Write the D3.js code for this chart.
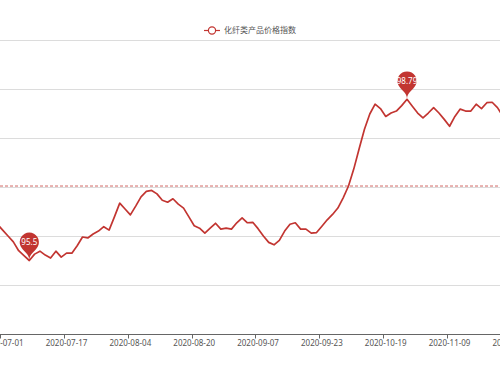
<!DOCTYPE html>
<html>
<head>
<meta charset="utf-8">
<script src="https://cdn.jsdelivr.net/npm/d3@7"></script>
<style>
  html, body { margin: 0; padding: 0; background: #fff; }
  svg { display: block; font-family: "Noto Sans", "Noto Sans CJK SC", sans-serif; }
</style>
</head>
<body>
<svg id="chart" width="500" height="375"></svg>
<script>
var seriesName = "化纤类产品价格指数";

var dates = [
    "2020-06-29", "2020-06-30",
    "2020-07-01", "2020-07-02", "2020-07-03", "2020-07-06", "2020-07-07", "2020-07-08",
    "2020-07-09", "2020-07-10", "2020-07-13", "2020-07-14", "2020-07-15", "2020-07-16",
    "2020-07-17", "2020-07-20", "2020-07-21", "2020-07-22", "2020-07-23", "2020-07-24",
    "2020-07-27", "2020-07-28", "2020-07-29", "2020-07-30", "2020-07-31", "2020-08-03",
    "2020-08-04", "2020-08-05", "2020-08-06", "2020-08-07", "2020-08-10", "2020-08-11",
    "2020-08-12", "2020-08-13", "2020-08-14", "2020-08-17", "2020-08-18", "2020-08-19",
    "2020-08-20", "2020-08-21", "2020-08-24", "2020-08-25", "2020-08-26", "2020-08-27",
    "2020-08-28", "2020-08-31", "2020-09-01", "2020-09-02", "2020-09-03", "2020-09-04",
    "2020-09-07", "2020-09-08", "2020-09-09", "2020-09-10", "2020-09-11", "2020-09-14",
    "2020-09-15", "2020-09-16", "2020-09-17", "2020-09-18", "2020-09-21", "2020-09-22",
    "2020-09-23", "2020-09-24", "2020-09-25", "2020-09-28", "2020-09-29", "2020-09-30",
    "2020-10-09", "2020-10-12", "2020-10-13", "2020-10-14", "2020-10-15", "2020-10-16",
    "2020-10-19", "2020-10-20", "2020-10-22", "2020-10-23", "2020-10-26", "2020-10-27",
    "2020-10-28", "2020-10-29", "2020-10-30", "2020-11-02", "2020-11-04", "2020-11-06",
    "2020-11-09", "2020-11-10", "2020-11-11", "2020-11-12", "2020-11-13", "2020-11-16",
    "2020-11-17", "2020-11-18", "2020-11-19", "2020-11-20", "2020-11-23", "2020-11-24",
    "2020-11-25", "2020-11-26"
];

var values = [
    96.37, 96.24,
    96.12, 96.00, 95.88, 95.70, 95.60, 95.50, 95.63, 95.69, 95.61, 95.55, 95.69, 95.57,
    95.65, 95.65, 95.80, 95.98, 95.96, 96.04, 96.10, 96.19, 96.12, 96.39, 96.67, 96.55,
    96.43, 96.61, 96.80, 96.91, 96.93, 96.86, 96.73, 96.69, 96.76, 96.65, 96.57, 96.39,
    96.21, 96.16, 96.06, 96.16, 96.26, 96.14, 96.16, 96.14, 96.27, 96.37, 96.27, 96.28,
    96.15, 96.00, 95.87, 95.82, 95.91, 96.10, 96.24, 96.27, 96.14, 96.14, 96.06, 96.07,
    96.20, 96.33, 96.44, 96.57, 96.78, 97.02, 97.37, 97.78, 98.18, 98.49, 98.69, 98.60,
    98.44, 98.51, 98.55, 98.66, 98.79, 98.65, 98.51, 98.41, 98.51, 98.62, 98.51, 98.38,
    98.24, 98.44, 98.59, 98.55, 98.55, 98.69, 98.60, 98.72, 98.73, 98.62, 98.45, 98.37,
    98.30, 98.35
];

// average mark line (whole series, partly outside the view)
var averageValue = 97.02;

var yTicks = [94, 95, 96, 97, 98, 99, 100];
var labelEvery = 12;
var firstLabel = "2020-07-01";

var color = "#c23531";

var svg = d3.select("#chart");

// category axis, one band per date; first shown label sits near the left edge
var step = 5.32;
var firstIdx = dates.indexOf(firstLabel);
var x0 = 2.7 - (firstIdx + 0.5) * step;
var x = d3.scaleBand()
    .domain(dates)
    .range([x0, x0 + dates.length * step])
    .padding(0);
function cx(d) { return x(d) + x.bandwidth() / 2; }

var y = d3.scaleLinear().domain([94, 100]).range([334, 40]);

// grid
svg.append("g").selectAll("line")
    .data(yTicks.slice(1))
    .enter().append("line")
    .attr("x1", 0).attr("x2", 500)
    .attr("y1", function(d) { return Math.round(y(d)) + 0.5; })
    .attr("y2", function(d) { return Math.round(y(d)) + 0.5; })
    .attr("stroke", "#dcdcdc")
    .attr("stroke-width", 1);

// x axis
var labelled = dates.filter(function(d, i) { return (i - firstIdx) % labelEvery === 0; });
var axisY = Math.round(y(94)) + 0.5;
var xAxis = svg.append("g");
xAxis.append("line")
    .attr("x1", 0).attr("x2", 500)
    .attr("y1", axisY).attr("y2", axisY)
    .attr("stroke", "#666").attr("stroke-width", 1);
xAxis.selectAll("line.tick")
    .data(labelled)
    .enter().append("line")
    .attr("class", "tick")
    .attr("x1", function(d) { return Math.round(x(d)) + 0.5; })
    .attr("x2", function(d) { return Math.round(x(d)) + 0.5; })
    .attr("y1", axisY).attr("y2", axisY + 4)
    .attr("stroke", "#666");
xAxis.selectAll("text")
    .data(labelled)
    .enter().append("text")
    .attr("x", cx)
    .attr("y", axisY + 9)
    .attr("dy", "0.35em")
    .attr("text-anchor", "middle")
    .attr("font-size", 8)
    .attr("fill", "#555")
    .text(function(d) { return d; });

// average line
svg.append("line")
    .attr("x1", 0).attr("x2", 500)
    .attr("y1", y(averageValue)).attr("y2", y(averageValue))
    .attr("stroke", color)
    .attr("stroke-opacity", 0.75)
    .attr("stroke-width", 1)
    .attr("stroke-dasharray", "3,2");

// series line
var line = d3.line()
    .x(function(d, i) { return cx(dates[i]); })
    .y(function(d) { return y(d); });

svg.append("path")
    .datum(values)
    .attr("d", line)
    .attr("fill", "none")
    .attr("stroke", color)
    .attr("stroke-width", 1.7)
    .attr("stroke-linejoin", "round");

// max / min pins (echarts style)
function pinPath(px, py, size) {
    var w = size / 5 * 3;
    var h = size;
    var r = w / 2;
    var dy = r * r / (h - r);
    var cy = py - h + r + dy;
    var angle = Math.asin(dy / r);
    var dx = Math.cos(angle) * r;
    var tanX = Math.sin(angle);
    var tanY = Math.cos(angle);
    var cpLen = r * 0.6;
    var cpLen2 = r * 0.7;
    var p = d3.path();
    p.moveTo(px - dx, cy + dy);
    p.arc(px, cy, r, Math.PI - angle, Math.PI * 2 + angle);
    p.bezierCurveTo(px + dx - tanX * cpLen, cy + dy + tanY * cpLen, px, py - cpLen2, px, py);
    p.bezierCurveTo(px, py - cpLen2, px - dx + tanX * cpLen, cy + dy + tanY * cpLen, px - dx, cy + dy);
    p.closePath();
    return { d: p.toString(), cy: cy };
}

var maxI = d3.maxIndex(values);
var minI = d3.minIndex(values);
var pins = [maxI, minI];
var pinSize = 32;

var pg = svg.append("g").selectAll("g")
    .data(pins)
    .enter().append("g");
pg.append("path")
    .attr("d", function(i) { return pinPath(cx(dates[i]), y(values[i]), pinSize).d; })
    .attr("fill", color);
pg.append("text")
    .attr("x", function(i) { return cx(dates[i]); })
    .attr("y", function(i) { return pinPath(cx(dates[i]), y(values[i]), pinSize).cy; })
    .attr("dy", "0.35em")
    .attr("text-anchor", "middle")
    .attr("font-size", 8)
    .attr("fill", "#fff")
    .text(function(i) { return values[i]; });

// legend
var lg = svg.append("g").attr("transform", "translate(204,30)");
lg.append("line")
    .attr("x1", 0).attr("x2", 16)
    .attr("y1", 0.5).attr("y2", 0.5)
    .attr("stroke", color).attr("stroke-width", 1.2);
lg.append("circle")
    .attr("cx", 8).attr("cy", 0.5).attr("r", 3.6)
    .attr("fill", "#fff").attr("stroke", color).attr("stroke-width", 1.2);
lg.append("text")
    .attr("x", 20).attr("y", 0)
    .attr("dy", "0.35em")
    .attr("font-size", 8)
    .attr("fill", "#555")
    .text(seriesName);
</script>
</body>
</html>
